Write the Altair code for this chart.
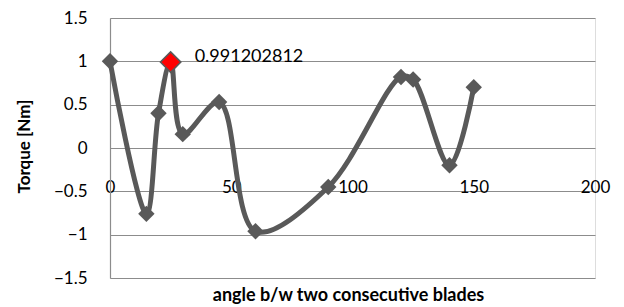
import altair as alt
import pandas as pd

angles = [0, 15, 20, 25, 30, 45, 60, 90, 120, 125, 140, 150]
torque = [1.0, -0.76, 0.40, 0.991202812, 0.16, 0.53, -0.96, -0.45, 0.82, 0.79, -0.20, 0.70]
hi_angle = [25]
hi_torque = [0.991202812]
hi_label = ["0.991202812"]

df = pd.DataFrame({"angle": angles, "torque": torque})
hi = pd.DataFrame({"angle": hi_angle, "torque": hi_torque, "label": hi_label})

FONT = "Lato"
GRAY = "#595959"
FS = 17

xscale = alt.Scale(domain=[0, 200], nice=False)
yscale = alt.Scale(domain=[-1.5, 1.5], nice=False)

base = alt.Chart(df)

line = base.mark_line(interpolate="catmull-rom", color=GRAY, strokeWidth=5).encode(
    x=alt.X("angle:Q", scale=xscale,
            axis=alt.Axis(values=[0, 50, 100, 150, 200], grid=False, domain=False, ticks=False,
                          offset=-100, labelPadding=1, labelFontSize=FS, labelColor="#000",
                          labelFont=FONT, labelOverlap=False, labelFlush=False,
                          title="angle b/w two consecutive blades", titleFont=FONT,
                          titleFontSize=18, titleFontWeight="bold", titleColor="#000",
                          titleX=238, titleY=117, titleBaseline="middle")),
    y=alt.Y("torque:Q", scale=yscale,
            axis=alt.Axis(values=[-1.5, -1, -0.5, 0, 0.5, 1, 1.5], grid=True, gridColor="#8c8c8c",
                          gridWidth=1.2, domain=True, domainColor="#8c8c8c", domainWidth=1.2,
                          ticks=False, labelPadding=23, labelFontSize=FS, labelColor="#000",
                          labelFont=FONT, format="~g", labelFlush=False,
                          title="Torque [Nm]", titleFont=FONT, titleFontSize=17,
                          titleFontWeight="bold", titleColor="#000",
                          titleX=-86, titleY=128, titleAlign="center", titleBaseline="middle",
                          titleAngle=270)),
)

pts = base.mark_point(shape="diamond", filled=True, color=GRAY, size=270, opacity=1).encode(
    x=alt.X("angle:Q", scale=xscale), y=alt.Y("torque:Q", scale=yscale))

hichart = alt.Chart(hi)
hipt = hichart.mark_point(shape="diamond", filled=True, fill="#ff0000", stroke=GRAY,
                          strokeWidth=1.5, size=420, opacity=1).encode(
    x=alt.X("angle:Q", scale=xscale), y=alt.Y("torque:Q", scale=yscale))
hitxt = hichart.mark_text(align="left", baseline="middle", dx=24, dy=-5, font=FONT,
                          fontSize=18, color="#000").encode(
    x=alt.X("angle:Q", scale=xscale), y=alt.Y("torque:Q", scale=yscale), text="label:N")

chart = alt.layer(line, pts, hipt, hitxt).properties(
    width=485, height=260,
    autosize=alt.AutoSizeParams(type="none"),
    padding={"left": 102, "top": 10, "right": 21, "bottom": 29},
).configure_view(stroke=None).configure(background="white")

chart.save("out.html", embed_options={"renderer": "svg", "actions": False})
